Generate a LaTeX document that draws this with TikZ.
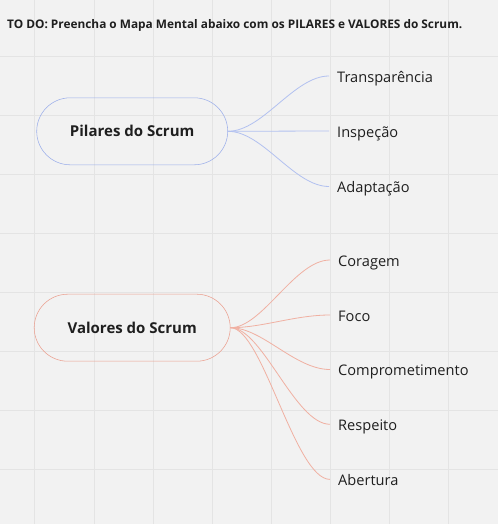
\documentclass[tikz,border=0pt]{standalone}
\usepackage{fontspec}
\setmainfont{Open Sans}
\definecolor{bg}{HTML}{F2F2F2}
\definecolor{gridc}{HTML}{E4E4E4}
\definecolor{bluel}{HTML}{B2C1F0}
\definecolor{blueb}{HTML}{9CAFEA}
\definecolor{salml}{HTML}{F0B0A2}
\definecolor{salmb}{HTML}{EBA090}
\definecolor{txt}{HTML}{1F1F1F}
\tikzset{
  hub/.style={draw, line width=0.55pt, rounded corners=33.5pt, minimum width=192pt, minimum height=67pt, inner sep=0pt, text=txt, font=\fontsize{15}{18}\selectfont\bfseries},
  leaf/.style={anchor=base west, inner sep=0pt, text=txt, font=\fontsize{14.6}{17}\selectfont},
  bconn/.style={draw=bluel, line width=0.8pt},
  sconn/.style={draw=salml, line width=0.8pt},
}
\begin{document}
\begin{tikzpicture}[x=1pt,y=-1pt]
\fill[bg] (0,0) rectangle (498,524);
\useasboundingbox (0,0) rectangle (498,524);
\foreach \gx in {34.7,93.9,153.0,212.2,271.3,330.5,389.6,448.8}
  \draw[gridc, line width=0.8pt] (\gx,0) -- (\gx,524);
\foreach \gy in {56.0,115.1,174.2,233.3,292.4,351.5,410.6,469.7}
  \draw[gridc, line width=0.8pt] (0,\gy) -- (498,\gy);
\node[anchor=base west, inner sep=0pt, text=txt, font=\fontsize{11.85}{14}\selectfont\bfseries] (title) at (7,28.3) {TO DO: Preencha o Mapa Mental abaixo com os PILARES e VALORES do Scrum.};
% hubs
\node[hub, draw=blueb, minimum width=191pt] (pil) at (132.2,131.3) {Pilares do Scrum};
\node[hub, draw=salmb, minimum width=196pt] (val) at (132.2,327.7) {Valores do Scrum};
% pilares
\coordinate (p1) at (329,76);
\coordinate (p2) at (329,131);
\coordinate (p3) at (329,186.5);
\node[leaf] (lp1) at (337,82.3) {Transparência};
\node[leaf] (lp2) at (337,137.3) {Inspeção};
\node[leaf] (lp3) at (337,192.8) {Adaptação};
\foreach \e in {p1,p3}
  \draw[bconn] (pil.east) .. controls +(35,0) and +(-35,0) .. (\e);
\draw[bconn] (pil.east) -- (p2);
% valores
\coordinate (v1) at (330,260);
\coordinate (v2) at (330,315);
\coordinate (v3) at (330,369.5);
\coordinate (v4) at (330,424.3);
\coordinate (v5) at (330,479.4);
\node[leaf] (lv1) at (338,266.3) {Coragem};
\node[leaf] (lv2) at (338,321.3) {Foco};
\node[leaf] (lv3) at (338,375.8) {Comprometimento};
\node[leaf] (lv4) at (338,430.6) {Respeito};
\node[leaf] (lv5) at (338,485.7) {Abertura};
\foreach \e in {v1,v2,v3,v4,v5}
  \draw[sconn] (val.east) .. controls +(32,0) and +(-35,0) .. (\e);
\end{tikzpicture}
\end{document}
